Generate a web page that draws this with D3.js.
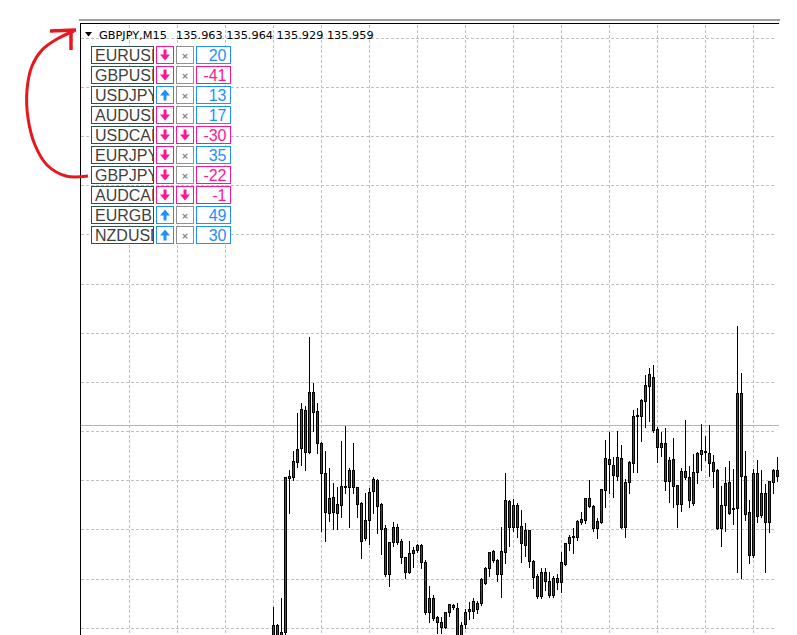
<!DOCTYPE html>
<html lang="en">
<head>
<meta charset="UTF-8">
<title>GBPJPY,M15</title>
<script src="https://cdn.jsdelivr.net/npm/d3@7"></script>
<style>
    html, body {
        margin: 0;
        padding: 0;
        background: #fff;
        overflow: hidden;
    }
    svg { display: block; }
</style>
</head>
<body>
<svg id="chart" width="797" height="635"></svg>
<script>

    // header of the chart window
    const headerSymbol = "GBPJPY,M15";
    const headerOHLC = ["135.963", "135.964", "135.929", "135.959"];

    // signal panel (top left)
    const symbols = ["EURUSD", "GBPUSD", "USDJPY", "AUDUSD", "USDCAD", "EURJPY", "GBPJPY", "AUDCAD", "EURGBP", "NZDUSD"];
    const signal1 = ["down", "down", "up", "down", "down", "down", "down", "down", "up", "up"];
    const signal2 = ["none", "none", "none", "none", "down", "none", "none", "down", "none", "none"];
    const scores = [20, -41, 13, 17, -30, 35, -22, -1, 49, 30];

    // M15 bars
    const opens = [
        135.790,135.803,135.792,135.796,135.952,135.953,135.969,135.983,136.022,135.979,
        136.040,136.020,135.988,135.957,135.917,135.933,135.917,135.925,135.943,135.943,
        135.960,135.943,135.927,135.891,135.910,135.939,135.950,135.926,135.901,135.855,
        135.887,135.903,135.888,135.872,135.857,135.876,135.879,135.884,135.867,135.816,
        135.830,135.811,135.806,135.801,135.816,135.823,135.820,135.788,135.804,135.819,
        135.817,135.819,135.825,135.846,135.861,135.878,135.869,135.855,135.877,135.929,
        135.903,135.925,135.904,135.884,135.899,135.868,135.853,135.832,135.857,135.848,
        135.833,135.851,135.847,135.865,135.886,135.892,135.892,135.908,135.910,135.932,
        135.924,135.901,135.908,135.940,135.972,135.966,135.954,135.973,135.903,135.948,
        135.968,136.015,136.015,136.031,136.046,136.055,136.002,135.984,135.988,135.949,
        135.972,135.945,135.926,135.959,135.953,135.927,135.958,135.977,135.979,135.978,
        135.969,135.960,135.901,135.925,135.948,135.921,135.922,136.039,135.954,135.918,
        135.874,135.957,135.915,135.937,135.908,135.948,135.960
    ];
    const highs = [
        135.822,135.804,135.831,135.954,135.961,135.980,136.019,136.029,136.026,136.096,
        136.049,136.029,135.989,135.980,135.963,135.948,135.944,135.990,136.006,135.963,
        135.988,135.944,135.928,135.938,135.943,135.954,135.952,135.927,135.905,135.888,
        135.908,135.906,135.891,135.873,135.889,135.883,135.886,135.886,135.869,135.843,
        135.834,135.813,135.811,135.817,135.825,135.825,135.826,135.806,135.820,135.827,
        135.831,135.828,135.851,135.862,135.878,135.880,135.870,135.903,135.958,135.930,
        135.932,135.927,135.920,135.907,135.900,135.869,135.855,135.861,135.861,135.857,
        135.853,135.855,135.878,135.887,135.895,135.902,135.910,135.918,135.933,135.951,
        135.925,135.912,135.942,135.991,136.000,135.974,136.001,135.986,135.952,135.970,
        136.022,136.024,136.033,136.058,136.065,136.068,136.005,136.000,136.004,135.974,
        135.994,135.946,135.963,136.012,135.965,135.977,135.979,136.008,135.996,136.007,
        135.976,135.962,135.945,135.964,135.970,135.962,136.107,136.060,135.980,135.930,
        135.962,135.971,135.961,135.947,135.950,135.962,135.974
    ];
    const lows = [
        135.786,135.786,135.788,135.792,135.917,135.951,135.964,135.966,135.961,135.978,
        136.001,135.978,135.899,135.889,135.909,135.901,135.901,135.913,135.938,135.903,
        135.938,135.913,135.871,135.890,135.886,135.917,135.897,135.876,135.853,135.843,
        135.884,135.886,135.866,135.851,135.856,135.862,135.878,135.861,135.815,135.806,
        135.808,135.795,135.795,135.800,135.812,135.820,135.783,135.783,135.800,135.809,
        135.810,135.816,135.824,135.845,135.853,135.867,135.848,135.832,135.866,135.884,
        135.899,135.893,135.867,135.874,135.862,135.841,135.831,135.831,135.839,135.832,
        135.832,135.840,135.837,135.864,135.880,135.877,135.890,135.906,135.907,135.923,
        135.899,135.892,135.907,135.923,135.938,135.934,135.951,135.902,135.893,135.938,
        135.959,135.959,135.990,136.005,136.011,136.000,135.969,135.975,135.941,135.928,
        135.923,135.903,135.919,135.952,135.923,135.925,135.948,135.961,135.971,135.955,
        135.944,135.901,135.884,135.899,135.916,135.906,135.857,135.851,135.910,135.866,
        135.873,135.908,135.913,135.857,135.898,135.938,135.950
    ];
    const closes = [
        135.803,135.790,135.796,135.953,135.954,135.970,135.982,136.023,135.979,136.040,
        136.019,135.988,135.957,135.918,135.932,135.918,135.926,135.944,135.944,135.960,
        135.943,135.926,135.888,135.910,135.938,135.951,135.924,135.900,135.855,135.887,
        135.903,135.887,135.872,135.857,135.876,135.879,135.884,135.867,135.816,135.830,
        135.810,135.806,135.801,135.816,135.824,135.821,135.788,135.803,135.816,135.817,
        135.827,135.825,135.850,135.861,135.877,135.869,135.855,135.878,135.930,135.903,
        135.925,135.903,135.886,135.899,135.868,135.852,135.832,135.857,135.848,135.833,
        135.851,135.847,135.867,135.886,135.892,135.893,135.909,135.911,135.932,135.924,
        135.901,135.909,135.941,135.973,135.967,135.955,135.974,135.903,135.948,135.969,
        136.015,136.016,136.032,136.047,136.058,136.001,135.984,135.988,135.949,135.971,
        135.944,135.926,135.959,135.953,135.930,135.958,135.978,135.981,135.980,135.968,
        135.959,135.902,135.925,135.947,135.917,135.922,136.039,135.954,135.916,135.874,
        135.957,135.914,135.937,135.908,135.949,135.960,135.954
    ];

    // grey horizontal price line and grid step
    const priceLine = 136.006;
    const gridPrices = d3.range(13).map(i => +(135.80 + i * 0.05).toFixed(2));
    const barsPerGridCol = 12;

    const bars = opens.map((o, i) => ({i: i, o: o, h: highs[i], l: lows[i], c: closes[i]}));

    const svg = d3.select("#chart");
    const plot = {left: 80, right: 779, top: 24, bottom: 635};

    const x = d3.scaleLinear().domain([0, bars.length - 1]).range([273.5, 777.5]);
    const y = d3.scaleLinear().domain([135.80, 136.40]).range([628.3, 38.3]);
    const crisp = v => Math.round(v - 0.5) + 0.5;

    svg.append("defs").append("clipPath").attr("id", "plotclip")
        .append("rect")
        .attr("x", plot.left + 1).attr("y", plot.top)
        .attr("width", plot.right - plot.left - 1).attr("height", plot.bottom - plot.top);

    // grid
    const grid = svg.append("g")
        .attr("clip-path", "url(#plotclip)")
        .attr("stroke", "#c0c0c0")
        .attr("stroke-width", 1)
        .attr("stroke-dasharray", "3,2");

    grid.selectAll("line.h")
        .data(gridPrices)
        .enter().append("line")
        .attr("class", "h")
        .attr("x1", plot.left + 1).attr("x2", 776)
        .attr("y1", d => crisp(y(d))).attr("y2", d => crisp(y(d)));

    grid.selectAll("line.v")
        .data(d3.range(-36, bars.length, barsPerGridCol))
        .enter().append("line")
        .attr("class", "v")
        .attr("x1", d => x(d)).attr("x2", d => x(d))
        .attr("y1", plot.top + 1).attr("y2", plot.bottom);

    // price line
    svg.append("line")
        .attr("x1", plot.left + 1).attr("x2", plot.right)
        .attr("y1", crisp(y(priceLine))).attr("y2", crisp(y(priceLine)))
        .attr("stroke", "#b4b4b4").attr("stroke-width", 1);

    // candles
    const candles = svg.append("g").attr("clip-path", "url(#plotclip)");

    candles.selectAll("line.wick")
        .data(bars)
        .enter().append("line")
        .attr("class", "wick")
        .attr("x1", d => x(d.i)).attr("x2", d => x(d.i))
        .attr("y1", d => Math.round(y(d.h))).attr("y2", d => Math.round(y(d.l)) + 1)
        .attr("stroke", "#000").attr("stroke-width", 1);

    candles.selectAll("rect.body")
        .data(bars)
        .enter().append("rect")
        .attr("class", "body")
        .attr("x", d => x(d.i) - 1)
        .attr("width", 2)
        .attr("y", d => crisp(y(Math.max(d.o, d.c))))
        .attr("height", d => Math.max(1, crisp(y(Math.min(d.o, d.c))) - crisp(y(Math.max(d.o, d.c)))))
        .attr("fill", d => d.c >= d.o ? "#008000" : "#e00000")
        .attr("stroke", "#000").attr("stroke-width", 1);

    // window frame
    svg.append("rect")
        .attr("x", plot.left - 1).attr("y", 19)
        .attr("width", plot.right - plot.left + 2).attr("height", 2)
        .attr("fill", "#a0a0a0");
    svg.append("line")
        .attr("x1", plot.left).attr("x2", plot.right)
        .attr("y1", 23.5).attr("y2", 23.5)
        .attr("stroke", "#000");
    svg.append("line")
        .attr("x1", plot.left + 0.5).attr("x2", plot.left + 0.5)
        .attr("y1", 23).attr("y2", plot.bottom)
        .attr("stroke", "#000");

    // header
    svg.append("path")
        .attr("d", "M85,32 L92,32 L88.5,36.5 Z")
        .attr("fill", "#000");
    svg.append("text")
        .attr("x", 99).attr("y", 39)
        .attr("font-family", "DejaVu Sans, sans-serif")
        .attr("font-size", 11.3)
        .attr("fill", "#000")
        .text(headerSymbol);
    svg.append("text")
        .attr("x", 176).attr("y", 39)
        .attr("font-family", "DejaVu Sans, sans-serif")
        .attr("font-size", 11.3)
        .attr("fill", "#000")
        .text(headerOHLC.join(" "));

    // signal panel
    const pink = "#ff1493", blue = "#1e90ff", gray = "#909090";
    const arrowPath = (cx, cy, dir) => {
        const s = dir === "down" ? 1 : -1;
        return `M${cx - 1.5},${cy - 5.5 * s} h3 v${5 * s} h3.5 l-5,${6 * s} l-5,${-6 * s} h3.5 Z`;
    };

    const rows = svg.append("g").selectAll("g.row")
        .data(symbols.map((s, i) => ({s: s, a: signal1[i], b: signal2[i], v: scores[i], i: i})))
        .enter().append("g")
        .attr("class", "row")
        .attr("transform", d => `translate(0,${46 + d.i * 20})`);

    rows.append("clipPath").attr("id", d => "sym" + d.i)
        .append("rect").attr("x", 91).attr("y", 0).attr("width", 63).attr("height", 18);

    rows.append("rect")
        .attr("x", 91.5).attr("y", 0.5).attr("width", 62).attr("height", 17)
        .attr("fill", "#fff").attr("stroke", "#2f4f4f");
    rows.append("text")
        .attr("clip-path", d => `url(#sym${d.i})`)
        .attr("x", 95).attr("y", 15)
        .attr("font-family", "Liberation Sans, Arial, sans-serif")
        .attr("font-size", 16)
        .attr("fill", "#3f3f3a")
        .text(d => d.s);

    rows.append("rect")
        .attr("x", 156.5).attr("y", 0.5).attr("width", 17).attr("height", 17)
        .attr("fill", "#fff").attr("stroke", d => d.a === "up" ? blue : pink);
    rows.append("path")
        .attr("d", d => arrowPath(165, 9, d.a))
        .attr("fill", d => d.a === "up" ? blue : pink);

    rows.append("rect")
        .attr("x", 176.5).attr("y", 0.5).attr("width", 17).attr("height", 17)
        .attr("fill", "#fff").attr("stroke", d => d.b === "none" ? gray : pink);
    rows.filter(d => d.b !== "none").append("path")
        .attr("d", d => arrowPath(185, 9, d.b))
        .attr("fill", pink);
    rows.filter(d => d.b === "none").append("text")
        .attr("x", 185).attr("y", 12.5)
        .attr("text-anchor", "middle")
        .attr("font-family", "DejaVu Sans, sans-serif")
        .attr("font-size", 9)
        .attr("font-weight", "bold")
        .attr("fill", "#808080")
        .text("\u00d7");

    rows.append("rect")
        .attr("x", 196.5).attr("y", 0.5).attr("width", 34).attr("height", 17)
        .attr("fill", "#fff").attr("stroke", d => d.v < 0 ? pink : blue);
    rows.append("text")
        .attr("x", 226.5).attr("y", 15)
        .attr("text-anchor", "end")
        .attr("font-family", "Liberation Sans, Arial, sans-serif")
        .attr("font-size", 16)
        .attr("fill", d => d.v < 0 ? pink : blue)
        .text(d => d.v);

    // hand drawn red arrow pointing at the header
    const arrowPts = [[88, 176], [66, 176], [47, 165], [35, 145], [28, 118], [27, 90],
                      [32, 66], [42, 50], [57, 39], [74, 31]];
    svg.append("path")
        .attr("d", d3.line().curve(d3.curveCatmullRom)(arrowPts))
        .attr("fill", "none")
        .attr("stroke", "#e8161e")
        .attr("stroke-width", 3);
    svg.append("path")
        .attr("d", "M50,31 L76,30 M71,31 L71,50")
        .attr("fill", "none")
        .attr("stroke", "#e8161e")
        .attr("stroke-width", 3.5);

</script>
</body>
</html>
